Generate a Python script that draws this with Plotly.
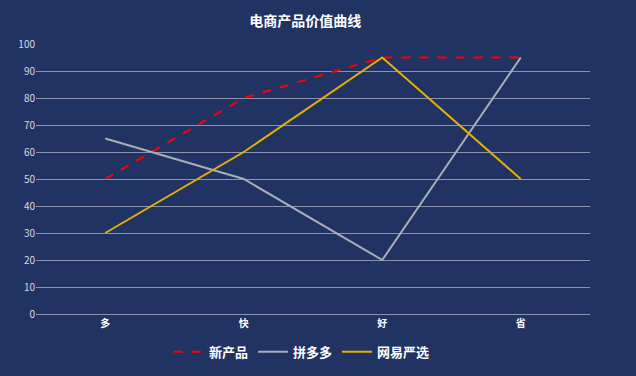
import plotly.graph_objects as go

categories = ["多", "快", "好", "省"]
new_product = [50, 80, 95, 95]
pinduoduo = [65, 50, 20, 95]
wangyi = [30, 60, 95, 50]
y_ticks = list(range(0, 101, 10))
series_names = ["新产品", "拼多多", "网易严选"]

font = "Noto Sans CJK SC"
fig = go.Figure()
fig.add_trace(go.Scatter(x=categories, y=new_product, name="<b>" + series_names[0] + "</b>", mode="lines",
                         line=dict(color="#ff0000", width=2, dash="dash")))
fig.add_trace(go.Scatter(x=categories, y=pinduoduo, name="<b>" + series_names[1] + "</b>", mode="lines",
                         line=dict(color="#a9adb8", width=2)))
fig.add_trace(go.Scatter(x=categories, y=wangyi, name="<b>" + series_names[2] + "</b>", mode="lines",
                         line=dict(color="#e6b000", width=2)))

fig.update_layout(
    width=636, height=376,
    paper_bgcolor="#213363", plot_bgcolor="#213363",
    margin=dict(l=36, r=46, t=44, b=62, autoexpand=False),
    font=dict(family=font, color="#ffffff"),
    title=dict(text="<b>电商产品价值曲线</b>", x=0.48, xanchor="center", y=0.945, yanchor="middle",
               font=dict(size=14, color="#ffffff", family=font)),
    showlegend=True,
    legend=dict(orientation="h", x=0.48, xanchor="center", y=-0.14, yanchor="middle",
                font=dict(size=13, color="#ffffff", family=font), bgcolor="rgba(0,0,0,0)",
                itemwidth=30, tracegroupgap=0),
    xaxis=dict(type="category", range=[-0.5, 3.5], showgrid=False, zeroline=False,
               showline=True, linecolor="#8a93ab", linewidth=1, ticks="",
               tickvals=categories, ticktext=["<b>" + c + "</b>" for c in categories],
               tickfont=dict(size=10, color="#ffffff", family=font)),
    yaxis=dict(range=[0, 100], tickvals=y_ticks, showgrid=True, gridcolor="#8a93ab", gridwidth=1,
               zeroline=False, showline=False, ticks="",
               tickfont=dict(size=10, color="#d6d9e0", family=font)),
)
fig.write_html("out.html")
